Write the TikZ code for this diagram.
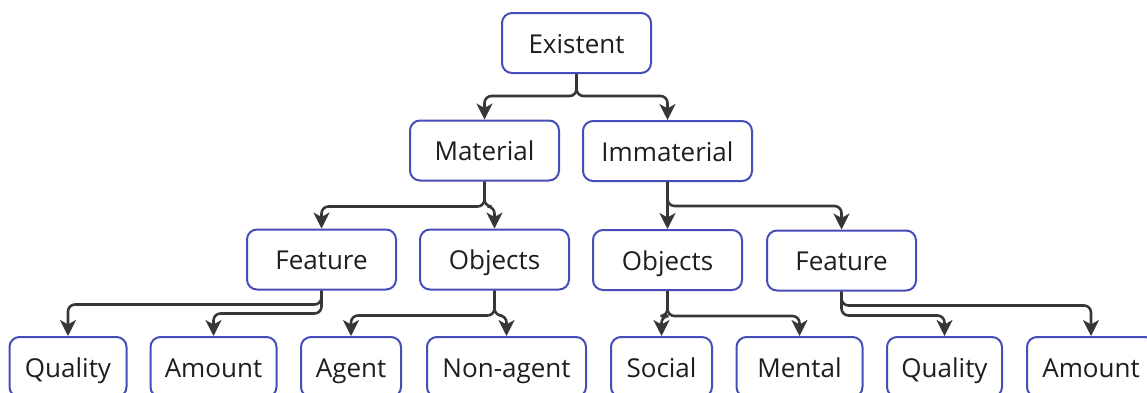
\documentclass[tikz,border=0pt]{standalone}
\usepackage{fontspec}
\setmainfont{Open Sans}
\usepackage{xcolor}
\usetikzlibrary{arrows.meta}
\definecolor{boxblue}{RGB}{70,76,184}
\definecolor{linegray}{RGB}{55,55,55}
\definecolor{textblack}{RGB}{30,30,30}

\begin{document}
\begin{tikzpicture}[x=1pt,y=-1pt,
  cat/.style={draw=boxblue,line width=2pt,rounded corners=10pt,fill=white,
    text=textblack,inner sep=0pt,minimum height=60pt,
    text height=24pt,text depth=4pt,
    font=\fontsize{26}{30}\selectfont},
  link/.style={draw=linegray,line width=2.6pt,rounded corners=7pt,
    -{Stealth[length=16pt,width=16pt,inset=4.5pt]}}]
\useasboundingbox (0,0) rectangle (1147,392);

\node[cat,minimum width=149pt] (exist) at (576.5,43) {Existent};
\node[cat,minimum width=149pt] (mat) at (484.5,150.5) {Material};
\node[cat,minimum width=169pt] (immat) at (667.5,151) {Immaterial};

\node[cat,minimum width=149pt] (feat1) at (321.5,259.5) {Feature};
\node[cat,minimum width=149pt] (obj1) at (494.5,259.5) {Objects};
\node[cat,minimum width=149pt] (obj2) at (667.5,260) {Objects};
\node[cat,minimum width=149pt] (feat2) at (841.5,260.5) {Feature};

\node[cat,minimum width=117pt] (qual1) at (68,367) {Quality};
\node[cat,minimum width=126pt] (amt1) at (213.5,367) {Amount};
\node[cat,minimum width=100pt] (agent) at (351,367) {Agent};
\node[cat,minimum width=159pt] (nonag) at (506.5,367) {Non-agent};
\node[cat,minimum width=101pt] (social) at (661.5,367) {Social};
\node[cat,minimum width=126pt] (mental) at (799.5,367) {Mental};
\node[cat,minimum width=115pt] (qual2) at (944.5,367) {Quality};
\node[cat,minimum width=128pt] (amt2) at (1091,367) {Amount};

\draw[link] (exist.south) -- ++(0,22) -| (mat.north);
\draw[link] (exist.south) -- ++(0,22) -| (immat.north);

\draw[link] (mat.south) -- ++(0,25) -| (feat1.north);
\draw[link] (mat.south) -- ++(0,25) -| (obj1.north);
\draw[link] (immat.south) -- (obj2.north);
\draw[link] (immat.south) -- ++(0,24) -| (feat2.north);

\draw[link] (feat1.south) -- ++(0,14) -| (qual1.north);
\draw[link] (feat1.south) -- ++(0,23) -| (amt1.north);
\draw[link] (obj1.south) -- ++(0,25) -| (agent.north);
\draw[link] (obj1.south) -- ++(0,25) -| (nonag.north);
\draw[link] (obj2.south) -- ++(0,25) -| (social.north);
\draw[link] (obj2.south) -- ++(0,25) -| (mental.north);
\draw[link] (feat2.south) -- ++(0,24) -| (qual2.north);
\draw[link] (feat2.south) -- ++(0,14) -| (amt2.north);
\end{tikzpicture}
\end{document}
